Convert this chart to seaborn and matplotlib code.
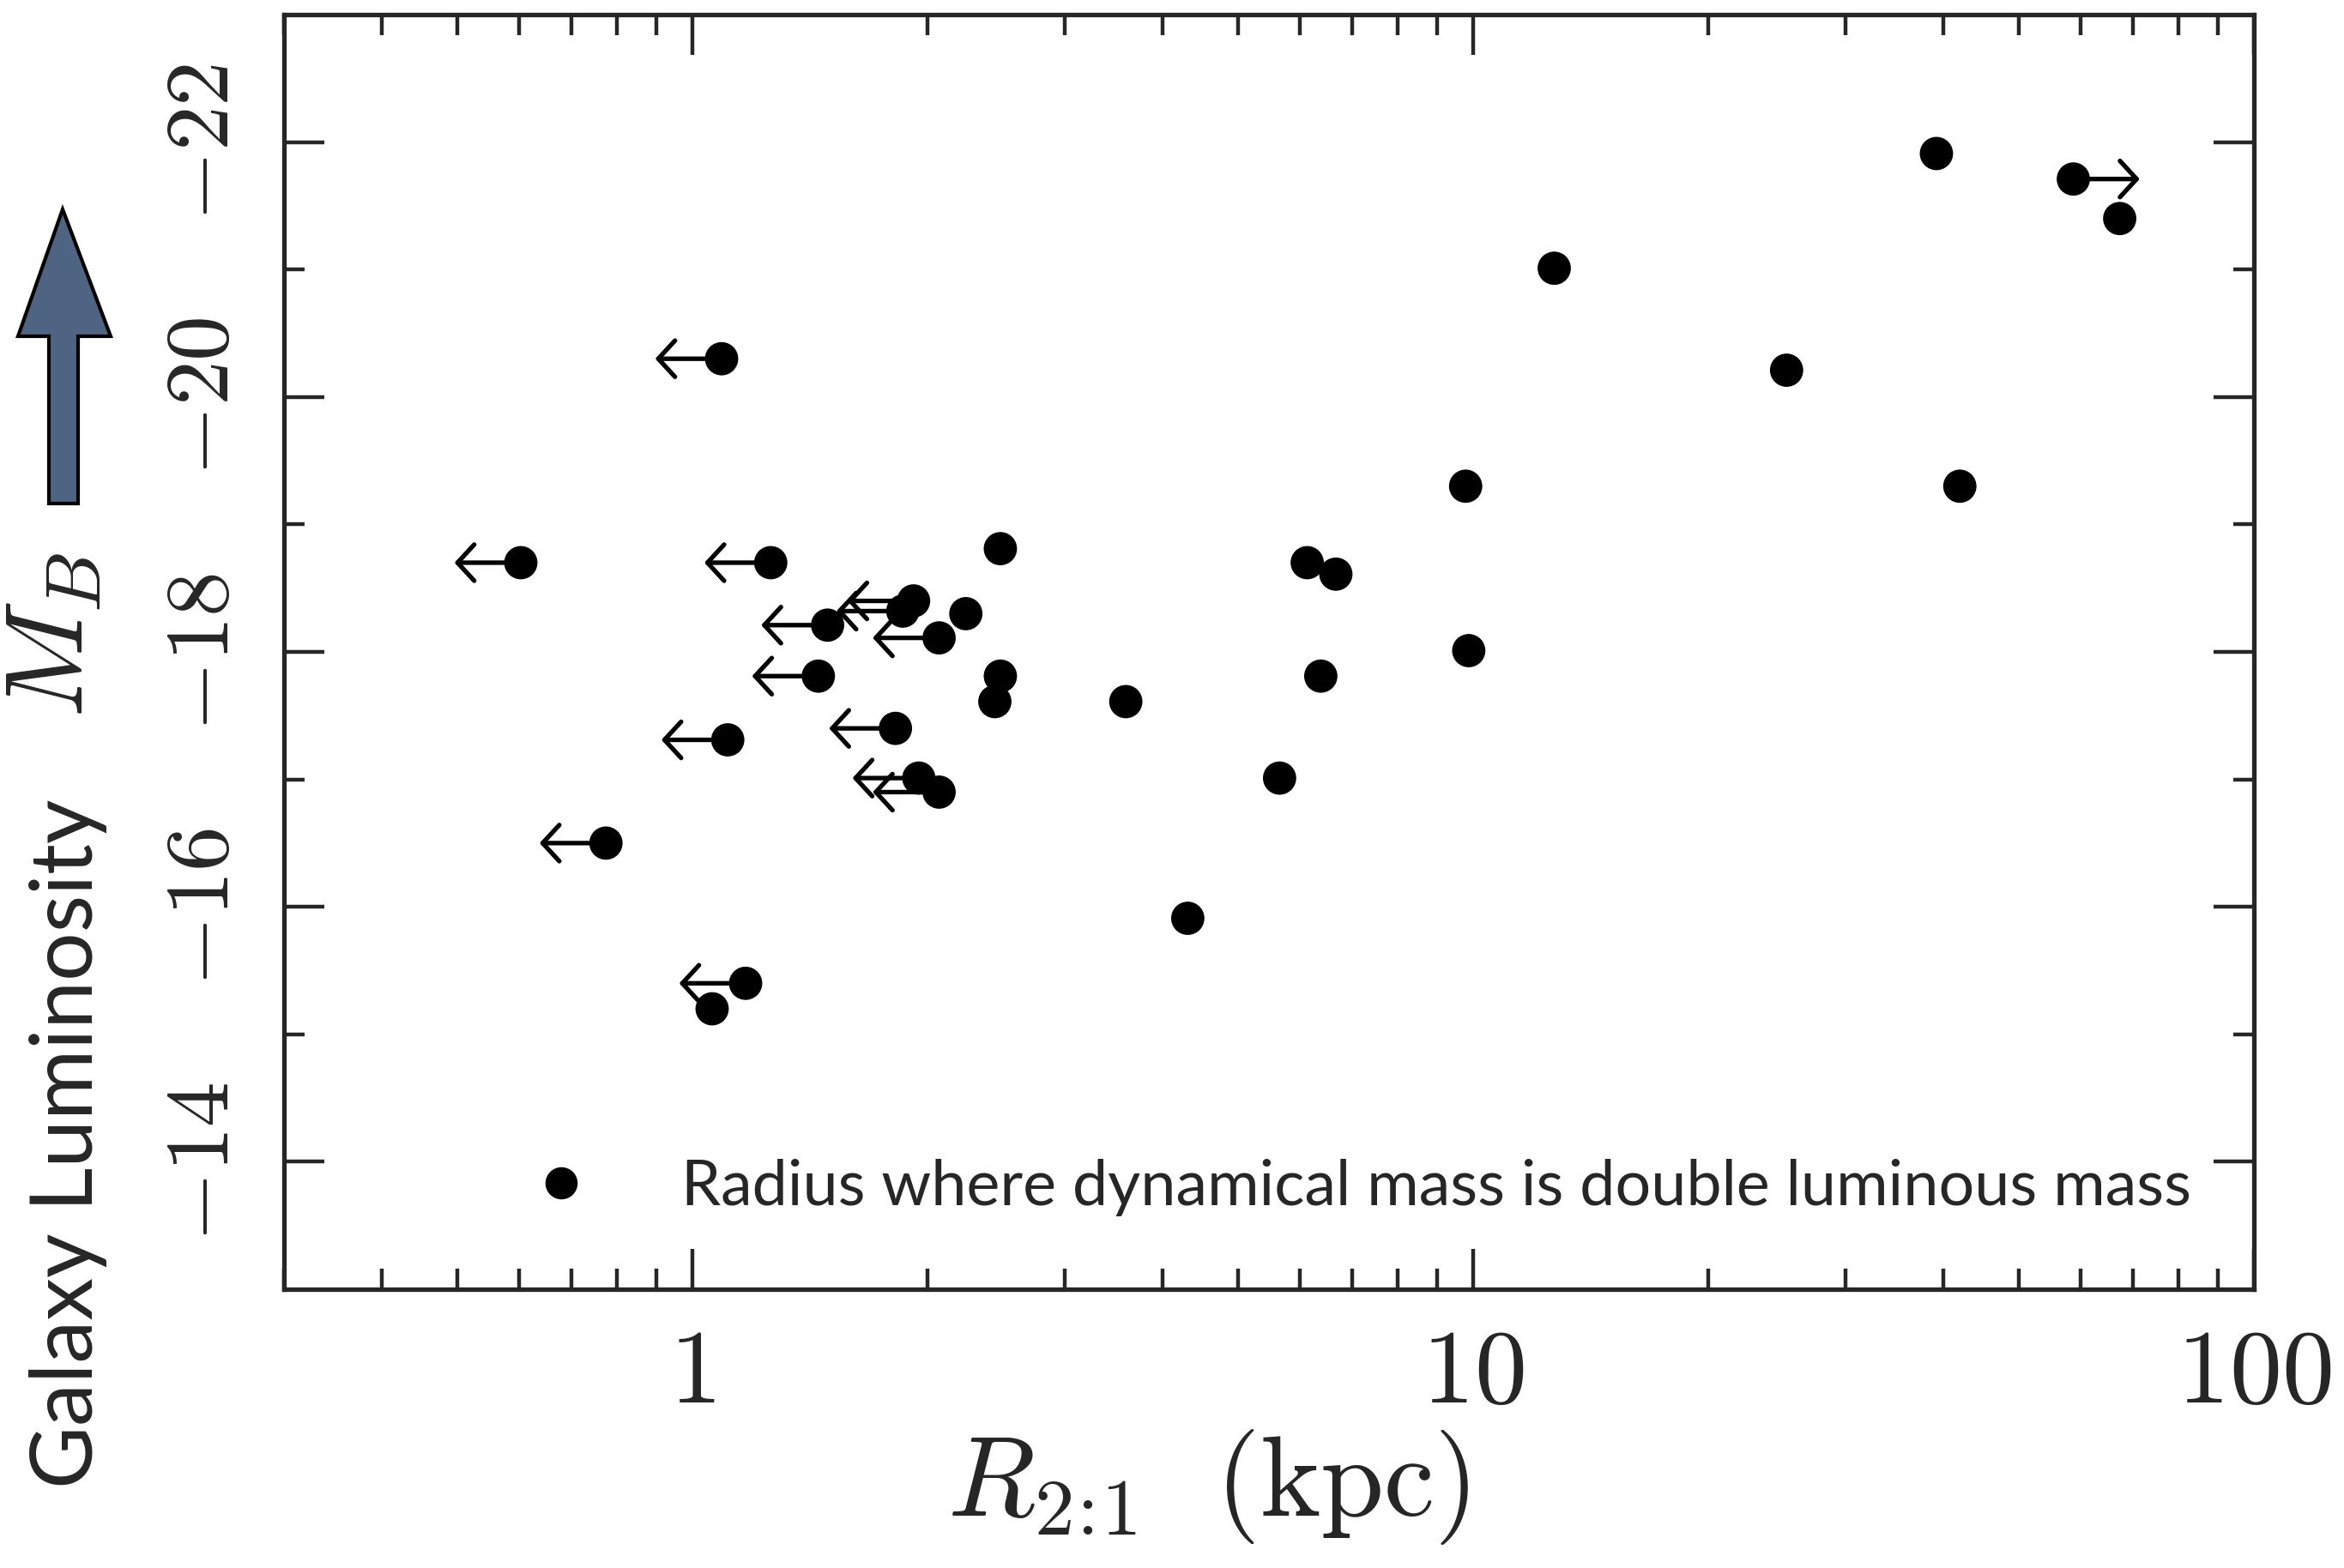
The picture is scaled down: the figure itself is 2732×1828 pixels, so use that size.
import numpy as np
import pandas as pd
import seaborn as sns
import matplotlib.pyplot as plt
from matplotlib.lines import Line2D
from matplotlib.patches import Polygon

# R_2:1 (kpc), M_B and limit direction ('<' upper limit, '>' lower limit, '' measured)
r21 = [39.2, 58.7, 67.3, 12.7, 25.2, 1.09, 9.78, 42.0,
       0.603, 1.26, 2.48, 6.13, 6.67, 1.92, 1.86, 2.24, 1.49, 2.07,
       9.87, 1.45, 2.48, 6.38, 2.44, 3.59, 1.82, 1.11, 5.65, 1.95, 2.07,
       0.775, 4.31, 1.17, 1.06]
mag = [-21.91, -21.71, -21.40, -21.01, -20.21, -20.30, -19.30, -19.30,
       -18.70, -18.70, -18.81, -18.70, -18.61, -18.40, -18.32, -18.30, -18.21, -18.11,
       -18.01, -17.81, -17.81, -17.81, -17.61, -17.61, -17.40, -17.31, -17.01, -17.01, -16.90,
       -16.50, -15.91, -15.40, -15.20]
limit = ['', '>', '', '', '', '<', '', '',
         '<', '<', '', '', '', '<', '<', '', '<', '<',
         '', '<', '', '', '', '', '<', '<', '', '<', '<',
         '<', '', '<', '']

yticks = [-22, -20, -18, -16, -14]
yminor = [-21, -19, -17, -15]
xticks = [1, 10, 100]
legend_text = 'Radius where dynamical mass is double luminous mass'

sns.set_style('ticks')
plt.rcParams['mathtext.fontset'] = 'cm'
plt.rcParams['font.family'] = ['Lato', 'DejaVu Sans']

fig = plt.figure(figsize=(13.66, 9.14), dpi=200)
ax = fig.add_axes([0.1212, 0.1778, 0.8404, 0.8129])

df = pd.DataFrame({'r21': r21, 'mag': mag, 'limit': limit})
sns.scatterplot(data=df, x='r21', y='mag', color='k', s=195, edgecolor='none',
                ax=ax, legend=False, zorder=3)

# limit arrows
arrow_dex = 0.085
for x, y, lim in zip(r21, mag, limit):
    if lim == '':
        continue
    xe = x / 10**arrow_dex if lim == '<' else x * 10**arrow_dex
    ax.annotate('', xy=(xe, y), xytext=(x, y),
                arrowprops=dict(arrowstyle='->,head_length=0.35,head_width=0.38',
                                lw=1.9, color='k', shrinkA=0, shrinkB=0,
                                mutation_scale=20))

ax.set_xscale('log')
ax.set_xlim(0.3, 100)
ax.set_ylim(-13, -23)

ax.set_yticks(yticks)
ax.set_yticks(yminor, minor=True)
ax.set_yticklabels([rf'${v}$' for v in yticks], rotation=90, va='center', fontsize=38)
ax.set_xticks(xticks)
ax.set_xticklabels([rf'${v}$' for v in xticks], fontsize=44)

ax.tick_params(which='both', direction='in', top=True, right=True, width=1.6)
ax.tick_params(which='major', length=17)
ax.tick_params(which='minor', length=8.5)
ax.tick_params(axis='y', which='major', pad=17)
ax.tick_params(axis='x', which='major', pad=15)
for sp in ax.spines.values():
    sp.set_linewidth(1.9)

ax.set_xlabel(r'$R_{2\!:\!1}\ \ (\mathrm{kpc})$', fontsize=48)
ax.xaxis.set_label_coords(0.469, -0.155)
ax.xaxis.label.set_va('center')
ax.set_ylabel(r'$M_B$', fontsize=46)
ax.yaxis.set_label_coords(-0.117, 0.513)
ax.yaxis.label.set_va('center')

ax.legend(handles=[Line2D([0], [0], marker='o', ls='none', color='k', markersize=12.5)],
          labels=[legend_text], loc='center left', bbox_to_anchor=(0.1247, 0.080),
          frameon=False, fontsize=26.5, handlelength=1, handletextpad=1.4,
          borderpad=0, borderaxespad=0)

# annotation on the left: big arrow and label
W, H = 2732, 1828
arrow_px = [(73, 244), (21, 392), (57, 392), (57, 587), (91, 587), (91, 392), (129, 392)]
fig.add_artist(Polygon([(x / W, 1 - y / H) for x, y in arrow_px], closed=True,
                       facecolor='#4f6482', edgecolor='k', lw=1.5,
                       transform=fig.transFigure))
fig.text(80 / W, 1 - 1333 / H, 'Galaxy Luminosity', rotation=90,
         ha='center', va='center', fontsize=36)

fig.savefig('out.png', dpi=200)
